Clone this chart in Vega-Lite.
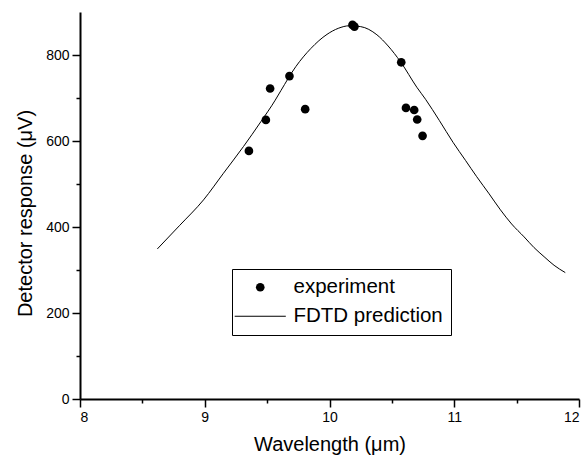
{
  "$schema": "https://vega.github.io/schema/vega-lite/v6.json",
  "width": 499,
  "height": 387,
  "autosize": {"type": "none"},
  "padding": {"left": 80, "top": 12, "right": 9, "bottom": 59},
  "background": "white",
  "config": {
    "view": {"stroke": null},
    "font": "Liberation Sans",
    "axis": {
      "grid": false,
      "domainColor": "black",
      "domainWidth": 2,
      "tickColor": "black",
      "tickWidth": 1.5,
      "labelFont": "Liberation Sans",
      "labelFontSize": 14,
      "labelColor": "black",
      "titleFont": "Liberation Sans",
      "titleFontSize": 20,
      "titleFontWeight": "normal",
      "titleColor": "black"
    }
  },
  "resolve": {"axis": {"x": "independent", "y": "independent"}},
  "datasets": {
    "experiment": [
      {"wavelength": 9.354, "response": 577, "series": "experiment"},
      {"wavelength": 9.49, "response": 649, "series": "experiment"},
      {"wavelength": 9.524, "response": 722, "series": "experiment"},
      {"wavelength": 9.679, "response": 751, "series": "experiment"},
      {"wavelength": 9.805, "response": 674, "series": "experiment"},
      {"wavelength": 10.184, "response": 870, "series": "experiment"},
      {"wavelength": 10.2, "response": 866, "series": "experiment"},
      {"wavelength": 10.575, "response": 783, "series": "experiment"},
      {"wavelength": 10.613, "response": 677, "series": "experiment"},
      {"wavelength": 10.679, "response": 672, "series": "experiment"},
      {"wavelength": 10.703, "response": 650, "series": "experiment"},
      {"wavelength": 10.746, "response": 612, "series": "experiment"}
    ],
    "fdtd": [
      {"wavelength": 8.62, "response": 349},
      {"wavelength": 8.8, "response": 404},
      {"wavelength": 8.99, "response": 463},
      {"wavelength": 9.15, "response": 525},
      {"wavelength": 9.31, "response": 587},
      {"wavelength": 9.45, "response": 645},
      {"wavelength": 9.565, "response": 695},
      {"wavelength": 9.61, "response": 717},
      {"wavelength": 9.73, "response": 773},
      {"wavelength": 9.85, "response": 815},
      {"wavelength": 9.98, "response": 848},
      {"wavelength": 10.07, "response": 862},
      {"wavelength": 10.16, "response": 868},
      {"wavelength": 10.25, "response": 866},
      {"wavelength": 10.38, "response": 847},
      {"wavelength": 10.47, "response": 821},
      {"wavelength": 10.57, "response": 784},
      {"wavelength": 10.7, "response": 725},
      {"wavelength": 10.77, "response": 697},
      {"wavelength": 10.88, "response": 648},
      {"wavelength": 10.99, "response": 597},
      {"wavelength": 11.09, "response": 555},
      {"wavelength": 11.18, "response": 517},
      {"wavelength": 11.28, "response": 477},
      {"wavelength": 11.37, "response": 440},
      {"wavelength": 11.46, "response": 407},
      {"wavelength": 11.56, "response": 377},
      {"wavelength": 11.64, "response": 352},
      {"wavelength": 11.72, "response": 331},
      {"wavelength": 11.8, "response": 311},
      {"wavelength": 11.89, "response": 294}
    ]
  },
  "layer": [
    {
      "data": {"name": "fdtd"},
      "mark": {"type": "line", "color": "black", "strokeWidth": 1, "interpolate": "monotone"},
      "encoding": {
        "x": {
          "field": "wavelength",
          "type": "quantitative",
          "scale": {"domain": [8, 12], "nice": false, "zero": false},
          "axis": {
            "orient": "bottom",
            "title": "Wavelength (μm)",
            "values": [8, 9, 10, 11, 12],
            "format": "d",
            "tickSize": 8,
            "labelPadding": 3,
            "titlePadding": 10
          }
        },
        "y": {
          "field": "response",
          "type": "quantitative",
          "scale": {"domain": [0, 900], "nice": false},
          "axis": {
            "orient": "left",
            "title": "Detector response (μV)",
            "values": [0, 200, 400, 600, 800],
            "format": "d",
            "tickSize": 8,
            "labelPadding": 3,
            "titlePadding": 10,
            "titleY": 201
          }
        }
      }
    },
    {
      "data": {"name": "experiment"},
      "mark": {"type": "point", "filled": true, "color": "black", "opacity": 1, "size": 75},
      "encoding": {
        "x": {
          "field": "wavelength",
          "type": "quantitative",
          "axis": {
            "orient": "bottom",
            "title": null,
            "values": [8.5, 9.5, 10.5, 11.5],
            "labels": false,
            "domain": false,
            "tickSize": 4
          }
        },
        "y": {
          "field": "response",
          "type": "quantitative",
          "axis": {
            "orient": "left",
            "title": null,
            "values": [100, 300, 500, 700],
            "labels": false,
            "domain": false,
            "tickSize": 4
          }
        },
        "shape": {
          "field": "series",
          "type": "nominal",
          "scale": {"domain": ["experiment", "FDTD prediction"], "range": ["circle", "M-5.9,-0.12H5.9V0.12H-5.9Z"]},
          "legend": {
            "title": null,
            "orient": "none",
            "legendX": 152,
            "legendY": 257,
            "strokeColor": "black",
            "fillColor": "white",
            "padding": 8,
            "symbolOffset": 10,
            "labelOffset": 23,
            "labelExpr": "datum.label + '  '",
            "labelFont": "Liberation Sans",
            "labelFontSize": 20.5,
            "labelColor": "black",
            "rowPadding": 8,
            "symbolSize": 75,
            "encode": {
              "legend": {"strokeWidth": {"value": 1.2}},
              "symbols": {
                "fill": {"value": "black"},
                "opacity": {"value": 1}
              }
            }
          }
        }
      }
    }
  ]
}
